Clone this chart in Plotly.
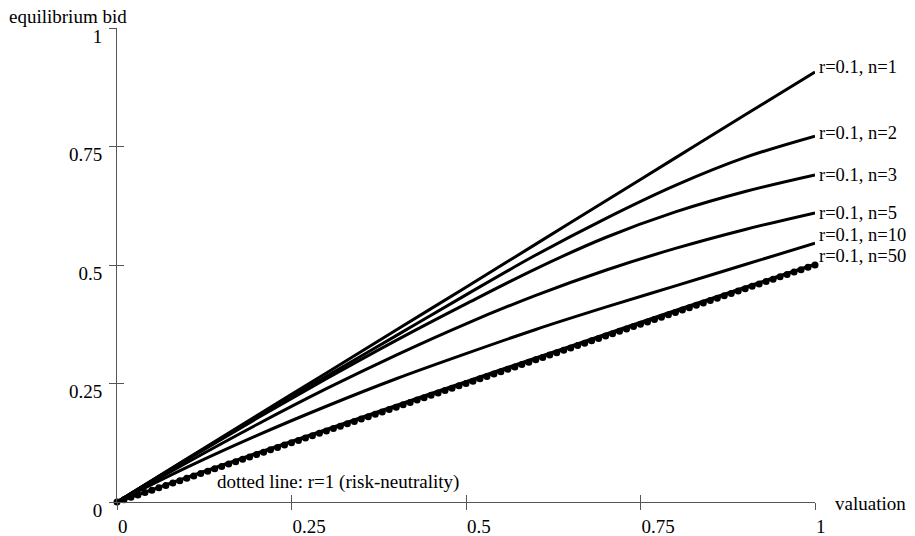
import plotly.graph_objects as go

# ---- data ----
valuation = [0.0, 0.1, 0.2, 0.3, 0.4, 0.5, 0.6, 0.7, 0.8, 0.9, 1.0]
bid_n1 = [0.0, 0.091, 0.182, 0.272, 0.363, 0.453, 0.544, 0.635, 0.726, 0.817, 0.907]
bid_n2 = [0.0, 0.090, 0.178, 0.265, 0.351, 0.437, 0.521, 0.598, 0.668, 0.727, 0.772]
bid_n3 = [0.0, 0.089, 0.176, 0.260, 0.341, 0.418, 0.492, 0.558, 0.612, 0.655, 0.690]
bid_n5 = [0.0, 0.083, 0.163, 0.239, 0.310, 0.376, 0.436, 0.489, 0.535, 0.575, 0.610]
bid_n10 = [0.0, 0.073, 0.140, 0.202, 0.260, 0.313, 0.364, 0.411, 0.456, 0.501, 0.546]
bid_n50 = [0.0, 0.052, 0.103, 0.153, 0.204, 0.254, 0.304, 0.354, 0.404, 0.453, 0.502]
series_names = ["r=0.1, n=1", "r=0.1, n=2", "r=0.1, n=3", "r=0.1, n=5", "r=0.1, n=10", "r=0.1, n=50"]

dotted_x = [0.00, 0.01, 0.02, 0.03, 0.04, 0.05, 0.06, 0.07, 0.08, 0.09,
            0.10, 0.11, 0.12, 0.13, 0.14, 0.15, 0.16, 0.17, 0.18, 0.19,
            0.20, 0.21, 0.22, 0.23, 0.24, 0.25, 0.26, 0.27, 0.28, 0.29,
            0.30, 0.31, 0.32, 0.33, 0.34, 0.35, 0.36, 0.37, 0.38, 0.39,
            0.40, 0.41, 0.42, 0.43, 0.44, 0.45, 0.46, 0.47, 0.48, 0.49,
            0.50, 0.51, 0.52, 0.53, 0.54, 0.55, 0.56, 0.57, 0.58, 0.59,
            0.60, 0.61, 0.62, 0.63, 0.64, 0.65, 0.66, 0.67, 0.68, 0.69,
            0.70, 0.71, 0.72, 0.73, 0.74, 0.75, 0.76, 0.77, 0.78, 0.79,
            0.80, 0.81, 0.82, 0.83, 0.84, 0.85, 0.86, 0.87, 0.88, 0.89,
            0.90, 0.91, 0.92, 0.93, 0.94, 0.95, 0.96, 0.97, 0.98, 0.99, 1.00]
dotted_y = [0.000, 0.005, 0.010, 0.015, 0.020, 0.025, 0.030, 0.035, 0.040, 0.045,
            0.050, 0.055, 0.060, 0.065, 0.070, 0.075, 0.080, 0.085, 0.090, 0.095,
            0.100, 0.105, 0.110, 0.115, 0.120, 0.125, 0.130, 0.135, 0.140, 0.145,
            0.150, 0.155, 0.160, 0.165, 0.170, 0.175, 0.180, 0.185, 0.190, 0.195,
            0.200, 0.205, 0.210, 0.215, 0.220, 0.225, 0.230, 0.235, 0.240, 0.245,
            0.250, 0.255, 0.260, 0.265, 0.270, 0.275, 0.280, 0.285, 0.290, 0.295,
            0.300, 0.305, 0.310, 0.315, 0.320, 0.325, 0.330, 0.335, 0.340, 0.345,
            0.350, 0.355, 0.360, 0.365, 0.370, 0.375, 0.380, 0.385, 0.390, 0.395,
            0.400, 0.405, 0.410, 0.415, 0.420, 0.425, 0.430, 0.435, 0.440, 0.445,
            0.450, 0.455, 0.460, 0.465, 0.470, 0.475, 0.480, 0.485, 0.490, 0.495, 0.500]
dotted_label = "dotted line: r=1 (risk-neutrality)"

tick_vals = [0, 0.25, 0.5, 0.75, 1]
tick_text = ["0", "0.25", "0.5", "0.75", "1"]
x_title = "valuation"
y_title = "equilibrium bid"

# ---- figure ----
FONT = "Liberation Serif"
FS = 19
AX = "#555555"
all_series = [bid_n1, bid_n2, bid_n3, bid_n5, bid_n10, bid_n50]

fig = go.Figure()
for name, ys in zip(series_names, all_series):
    fig.add_trace(go.Scatter(x=valuation, y=ys, mode="lines", name=name,
                             line=dict(color="black", width=3, shape="spline", smoothing=1.0),
                             cliponaxis=False, showlegend=False))
fig.add_trace(go.Scatter(x=dotted_x, y=dotted_y, mode="lines+markers", name="r=1",
                         line=dict(color="black", width=1.5),
                         marker=dict(color="black", size=7),
                         cliponaxis=False, showlegend=False))
# invisible trace for the overlay axes (inner half of the crossing ticks)
fig.add_trace(go.Scatter(x=[0], y=[0], xaxis="x2", yaxis="y2", mode="markers",
                         marker=dict(opacity=0), showlegend=False, hoverinfo="skip"))

label_yshift = [5, 3, 0, 0, 8, 8]
for name, ys, dy in zip(series_names, all_series, label_yshift):
    fig.add_annotation(x=valuation[-1], y=ys[-1], text=name, showarrow=False,
                       xanchor="left", yanchor="middle", xshift=3, yshift=dy,
                       borderpad=0,
                       font=dict(family=FONT, size=18.5, color="black"))

fig.add_annotation(x=0.141, y=0.042, text=dotted_label, showarrow=False,
                   xanchor="left", yanchor="middle",
                   font=dict(family=FONT, size=FS, color="black"))
fig.add_annotation(x=1, y=0, text=x_title, showarrow=False, xanchor="left",
                   yanchor="middle", xshift=18, yshift=-1,
                   font=dict(family=FONT, size=FS, color="black"))
fig.add_annotation(x=0, y=1, text=y_title, showarrow=False, xanchor="left",
                   yanchor="bottom", xref="paper", yref="paper", xshift=-109, yshift=0,
                   borderpad=0,
                   font=dict(family=FONT, size=FS, color="black"))

axis_common = dict(range=[0, 1], showgrid=False, zeroline=False, automargin=False,
                   tickvals=tick_vals, ticktext=tick_text, ticklen=7,
                   tickcolor=AX, tickwidth=1)
# the page body adds an 8px offset; the figure is sized so the plot area lands in place
fig.update_layout(
    width=907, height=528,
    margin=dict(l=109, r=100, t=20, b=34, autoexpand=False),
    paper_bgcolor="white", plot_bgcolor="white",
    font=dict(family=FONT, size=FS, color="black"),
    xaxis=dict(**axis_common, showline=True, linecolor=AX, linewidth=1,
               ticks="outside", ticklabelposition="outside right",
               ticklabelstandoff=7),
    yaxis=dict(**axis_common, showline=True, linecolor=AX, linewidth=1,
               ticks="outside", ticklabelshift=8, ticklabelstandoff=3),
    xaxis2=dict(**axis_common, overlaying="x", anchor="y2", ticks="inside",
                showticklabels=False, showline=False),
    yaxis2=dict(**axis_common, overlaying="y", anchor="x2", ticks="inside",
                showticklabels=False, showline=False),
)

fig.write_html("out.html")
